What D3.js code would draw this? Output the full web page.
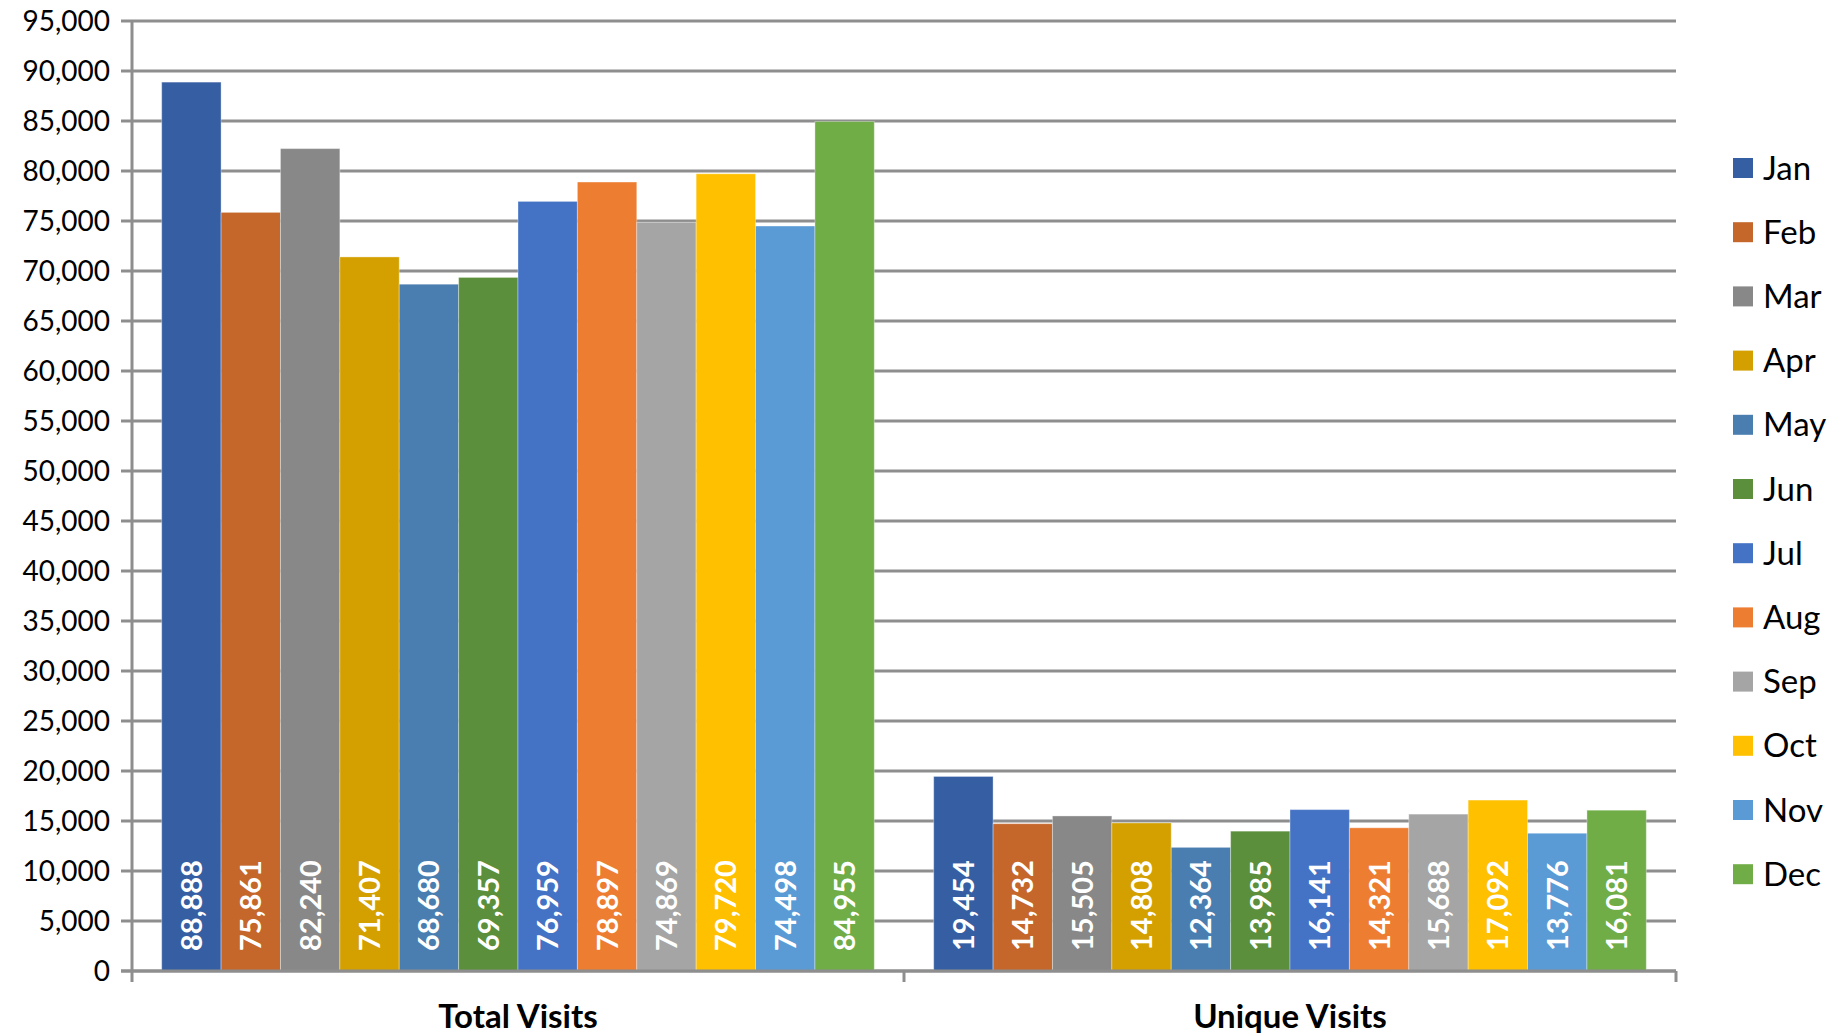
<!DOCTYPE html>
<html>
<head>
<meta charset="utf-8">
<script src="https://cdn.jsdelivr.net/npm/d3@7"></script>
<style>
  body { margin: 0; background: #fff; }
  text { font-family: Lato, "Open Sans", sans-serif; }
</style>
</head>
<body>
<script>
var categories = ["Total Visits", "Unique Visits"];
var months = ["Jan", "Feb", "Mar", "Apr", "May", "Jun", "Jul", "Aug", "Sep", "Oct", "Nov", "Dec"];
var totalVisits = [88888, 75861, 82240, 71407, 68680, 69357, 76959, 78897, 74869, 79720, 74498, 84955];
var uniqueVisits = [19454, 14732, 15505, 14808, 12364, 13985, 16141, 14321, 15688, 17092, 13776, 16081];
var monthColors = ["#365ea2", "#c5662a", "#888888", "#d3a000", "#4a7eb0", "#5b8f3b",
                   "#4472c4", "#ed7d31", "#a5a5a5", "#ffc000", "#5b9bd5", "#70ad47"];
var yTicks = d3.range(0, 95001, 5000);

var width = 1843,
    height = 1036,
    margin = {top: 21, right: 167, bottom: 65, left: 132};

var innerW = width - margin.left - margin.right,
    innerH = height - margin.top - margin.bottom;

var gridColor = "#8e8e8e";
var fmt = d3.format(",d");

var rows = categories.map(function(c, i) {
  var vals = i === 0 ? totalVisits : uniqueVisits;
  return {category: c, values: months.map(function(m, j) { return {month: m, value: vals[j]}; })};
});

var x0 = d3.scaleBand().domain(categories).range([0, innerW]).padding(0);
var x1 = d3.scaleBand().domain(months).range([0, x0.bandwidth()]).paddingInner(0).paddingOuter(0.5);
var y = d3.scaleLinear().domain([0, 95000]).range([innerH, 0]);
var color = d3.scaleOrdinal().domain(months).range(monthColors);

var svg = d3.select("body").append("svg")
    .attr("width", width)
    .attr("height", height);

var g = svg.append("g")
    .attr("transform", "translate(" + margin.left + "," + margin.top + ")");

// gridlines
g.append("g")
  .selectAll("line")
  .data(yTicks)
  .enter().append("line")
    .attr("x1", -11)
    .attr("x2", innerW)
    .attr("y1", function(d) { return y(d); })
    .attr("y2", function(d) { return y(d); })
    .attr("stroke", gridColor)
    .attr("stroke-width", 3);

// y labels
g.append("g")
  .selectAll("text")
  .data(yTicks)
  .enter().append("text")
    .attr("x", -22)
    .attr("y", function(d) { return y(d); })
    .attr("dy", "0.35em")
    .attr("text-anchor", "end")
    .attr("font-size", 28)
    .attr("fill", "#000")
    .text(fmt);

// bars
var groups = g.selectAll(".cat")
    .data(rows)
  .enter().append("g")
    .attr("class", "cat")
    .attr("transform", function(d) { return "translate(" + x0(d.category) + ",0)"; });

groups.selectAll("rect")
    .data(function(d) { return d.values; })
  .enter().append("rect")
    .attr("x", function(d) { return x1(d.month); })
    .attr("width", x1.bandwidth())
    .attr("y", function(d) { return y(d.value); })
    .attr("height", function(d) { return innerH - y(d.value); })
    .attr("fill", function(d) { return color(d.month); })
    .attr("stroke", "rgba(255,255,255,0.35)")
    .attr("stroke-width", 1);

groups.selectAll(".lbl")
    .data(function(d) { return d.values; })
  .enter().append("text")
    .attr("class", "lbl")
    .attr("transform", function(d) {
      return "translate(" + (x1(d.month) + x1.bandwidth() / 2) + "," + (innerH - 20) + ") rotate(-90)";
    })
    .attr("dy", "0.36em")
    .attr("font-size", 29)
    .attr("font-weight", "bold")
    .attr("fill", "#fff")
    .text(function(d) { return fmt(d.value); });

// axes lines
g.append("line")
    .attr("x1", 0).attr("x2", 0)
    .attr("y1", -1).attr("y2", innerH + 11)
    .attr("stroke", gridColor).attr("stroke-width", 3);

g.append("line")
    .attr("x1", -11).attr("x2", innerW)
    .attr("y1", innerH).attr("y2", innerH)
    .attr("stroke", gridColor).attr("stroke-width", 3);

g.append("g")
  .selectAll("line")
  .data(categories)
  .enter().append("line")
    .attr("x1", function(d) { return x0(d) + x0.bandwidth(); })
    .attr("x2", function(d) { return x0(d) + x0.bandwidth(); })
    .attr("y1", innerH)
    .attr("y2", innerH + 11)
    .attr("stroke", gridColor).attr("stroke-width", 3);

// category labels
g.append("g")
  .selectAll("text")
  .data(categories)
  .enter().append("text")
    .attr("x", function(d) { return x0(d) + x0.bandwidth() / 2; })
    .attr("y", innerH + 57)
    .attr("text-anchor", "middle")
    .attr("font-size", 33)
    .attr("font-weight", "bold")
    .attr("fill", "#000")
    .text(function(d) { return d; });

// legend
var legend = svg.append("g")
    .attr("transform", "translate(1733,158)");

var item = legend.selectAll("g")
    .data(months)
  .enter().append("g")
    .attr("transform", function(d, i) { return "translate(0," + (i * 64.2) + ")"; });

item.append("rect")
    .attr("width", 20)
    .attr("height", 20)
    .attr("fill", function(d) { return color(d); });

item.append("text")
    .attr("x", 30)
    .attr("y", 10)
    .attr("dy", "0.35em")
    .attr("font-size", 33)
    .attr("fill", "#000")
    .text(function(d) { return d; });
</script>
</body>
</html>
